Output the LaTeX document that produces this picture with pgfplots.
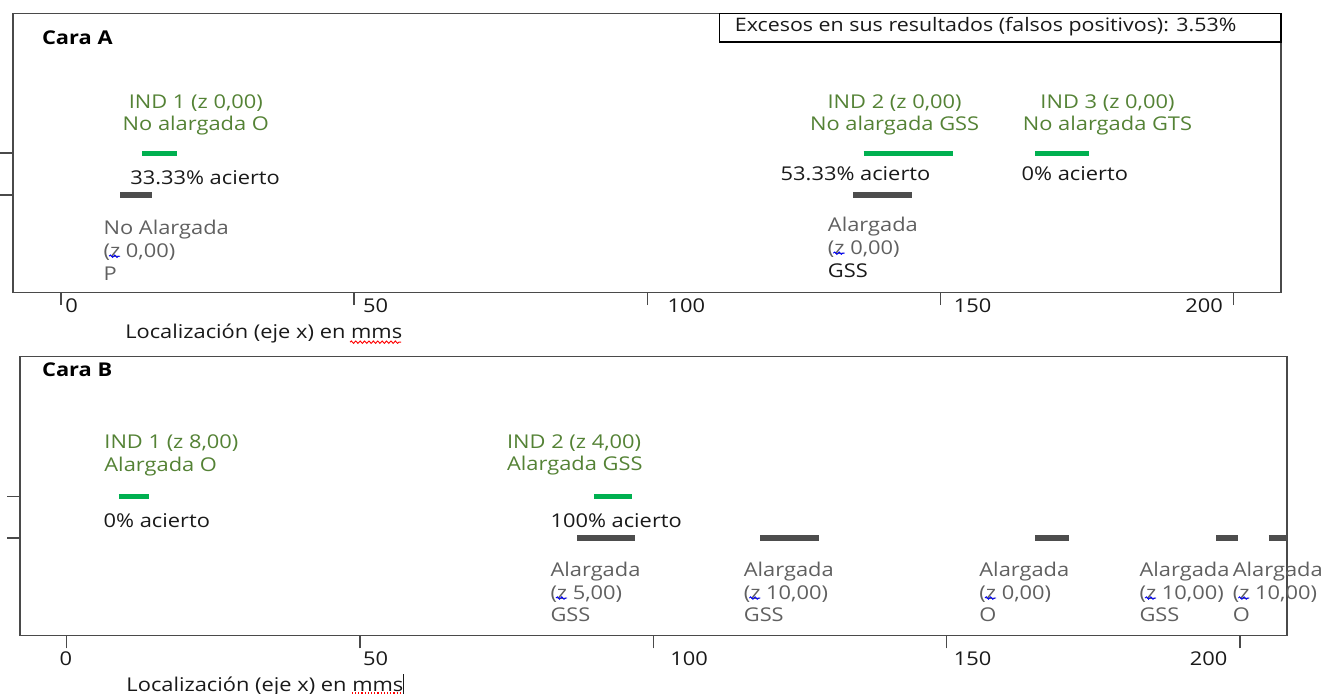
\documentclass[border=0pt]{standalone}
\usepackage{pgfplots}
\pgfplotsset{compat=1.18}
\usetikzlibrary{decorations.pathmorphing}
\usepackage{fontspec}
\setmainfont{Open Sans}[FakeStretch=1.15]
\definecolor{gline}{HTML}{00B050}
\definecolor{gtext}{HTML}{548235}
\definecolor{bline}{HTML}{4D4D4D}
\definecolor{btext}{HTML}{606060}
\definecolor{frame}{HTML}{4A4A4A}
\newcommand{\tf}{\fontsize{9.5}{11.3}\selectfont}
\pgfplotsset{
  cara/.style={
    scale only axis, width=634pt, height=139.5pt, anchor=south west,
    ymin=0, ymax=10, clip=false,
    axis line style={frame, line width=0.7pt},
    xtick={0,50,100,150,200}, ytick={3.5,5}, yticklabels={},
    tick align=outside, xtick pos=bottom, ytick pos=left,
    major tick length=6.3pt,
    tick style={frame, line width=0.7pt},
    xticklabel style={anchor=north west, inner sep=0pt, font=\tf, text=black!90},
  },
}
\tikzset{
  lbl/.style={inner sep=0pt, anchor=west, align=left, font=\tf},
  lblc/.style={inner sep=0pt, anchor=center, align=center, font=\tf},
  wave/.style={line width=0.45pt, decorate, decoration={snake, amplitude=0.6pt, segment length=2.2pt}},
}
\newcommand{\tl}[2]{\makebox[0pt][l]{\hspace{#1}#2}}
\newcommand{\tr}[2]{\makebox[0pt][r]{#2\hspace{#1}}}
\begin{document}
\begin{tikzpicture}
% ---------------- Cara A ----------------
\begin{axis}[cara, at={(6.5pt,200.25pt)}, xmin=-8.18, xmax=208.1,
  xticklabels={{\tl{1.5pt}{0}},{\tl{3.8pt}{50}},{\tl{9.5pt}{100}},{\tl{6pt}{150}},{\tr{6pt}{200}}},
  xticklabel style={yshift=3.25pt}]
\addplot[gline, line width=2.5pt] coordinates {(13.9,5) (19.8,5)};
\addplot[gline, line width=2.5pt] coordinates {(136.9,5) (152.1,5)};
\addplot[gline, line width=2.5pt] coordinates {(166.2,5) (175.3,5)};
\addplot[bline, line width=3pt] coordinates {(10.1,3.5) (15.5,3.5)};
\addplot[bline, line width=3pt] coordinates {(135.1,3.5) (145.1,3.5)};
\node[lbl, font=\tf\bfseries] at (axis cs:-3.29,9.14) {Cara A};
\draw[black, line width=0.7pt] (axis cs:112.3,8.98) rectangle (rel axis cs:1,1);
\node[lbl, text=black!90, font=\fontsize{9.3}{11}\selectfont] at (axis cs:114.9,9.52) {Excesos en sus resultados (falsos positivos): 3.53\%};
\node[lblc, text=gtext] at (axis cs:23.0,6.36) {IND 1 (z 0,00)\\No alargada O};
\node[lblc, text=gtext] at (axis cs:142.2,6.36) {IND 2 (z 0,00)\\No alargada GSS};
\node[lblc, text=gtext] at (axis cs:178.5,6.36) {IND 3 (z 0,00)\\No alargada GTS};
\node[lbl, text=black!90] at (axis cs:11.76,4.12) {33.33\% acierto};
\node[lbl, text=black!90] at (axis cs:122.7,4.27) {53.33\% acierto};
\node[lbl, text=black!90] at (axis cs:163.8,4.27) {0\% acierto};
\node[lbl, text=btext] at (axis cs:7.21,1.51) {No Alargada\\(z 0,00)\\P};
\node[lbl, text=btext] at (axis cs:130.75,1.62) {Alargada\\(z 0,00)\\\textcolor{black!90}{GSS}};
\draw[blue, wave] (axis cs:8.2,1.30) -- (axis cs:10.1,1.30);
\draw[blue, wave] (axis cs:131.75,1.41) -- (axis cs:133.65,1.41);
\node[lbl, text=black!90] at (axis cs:10.9,-1.48) {Localización (eje x) en mms};
\draw[red, wave] (axis cs:49.3,-1.78) -- (axis cs:58.0,-1.78);
\end{axis}
% ---------------- Cara B ----------------
\begin{axis}[cara, at={(10pt,28.65pt)}, width=633.5pt, xmin=-7.96, xmax=208.0,
  xticklabels={{\tl{-4.3pt}{0}},{\tl{0.8pt}{50}},{\tl{7.8pt}{100}},{\tl{2.9pt}{150}},{\tr{7pt}{200}}},
  xticklabel style={yshift=-1.7pt}]
\addplot[gline, line width=2.5pt] coordinates {(8.9,5) (14.0,5)};
\addplot[gline, line width=2.5pt] coordinates {(89.9,5) (96.4,5)};
\addplot[bline, line width=3pt] coordinates {(87.0,3.5) (96.9,3.5)};
\addplot[bline, line width=3pt] coordinates {(118.2,3.5) (128.3,3.5)};
\addplot[bline, line width=3pt] coordinates {(165.1,3.5) (170.9,3.5)};
\addplot[bline, line width=3pt] coordinates {(195.9,3.5) (199.7,3.5)};
\addplot[bline, line width=3pt] coordinates {(204.9,3.5) (208.0,3.5)};
\node[lbl, font=\tf\bfseries] at (axis cs:-4.26,9.55) {Cara B};
\node[lbl, text=gtext] at (axis cs:6.36,6.46) {IND 1 (z 8,00)\\Alargada O};
\node[lbl, text=gtext] at (axis cs:75.0,6.48) {IND 2 (z 4,00)\\Alargada GSS};
\node[lbl, text=black!90] at (axis cs:6.24,4.14) {0\% acierto};
\node[lbl, text=black!90] at (axis cs:82.4,4.12) {100\% acierto};
\node[lbl, text=btext] at (axis cs:82.4,1.57) {Alargada\\(z 5,00)\\GSS};
\node[lbl, text=btext] at (axis cs:115.35,1.57) {Alargada\\(z 10,00)\\GSS};
\node[lbl, text=btext] at (axis cs:155.5,1.57) {Alargada\\(z 0,00)\\O};
\node[lbl, text=btext] at (axis cs:182.8,1.57) {Alargada\\(z 10,00)\\GSS};
\node[lbl, text=btext] at (axis cs:198.7,1.57) {Alargada\\(z 10,00)\\O};
\draw[blue, wave] (axis cs:83.4,1.35) -- (axis cs:85.3,1.35);
\draw[blue, wave] (axis cs:116.35,1.35) -- (axis cs:118.25,1.35);
\draw[blue, wave] (axis cs:156.5,1.35) -- (axis cs:158.4,1.35);
\draw[blue, wave] (axis cs:183.8,1.35) -- (axis cs:185.7,1.35);
\draw[blue, wave] (axis cs:199.7,1.35) -- (axis cs:201.6,1.35);
\node[lbl, text=black!90] at (axis cs:10.12,-1.76) {Localización (eje x) en mms\rule[-1.5pt]{0.5pt}{10pt}};
\draw[red, densely dotted, line width=0.6pt] (axis cs:48.6,-2.05) -- (axis cs:57.3,-2.05);
\end{axis}
\pgfresetboundingbox
\path (0,0) rectangle (661.5pt,346.5pt);
\end{tikzpicture}
\end{document}
